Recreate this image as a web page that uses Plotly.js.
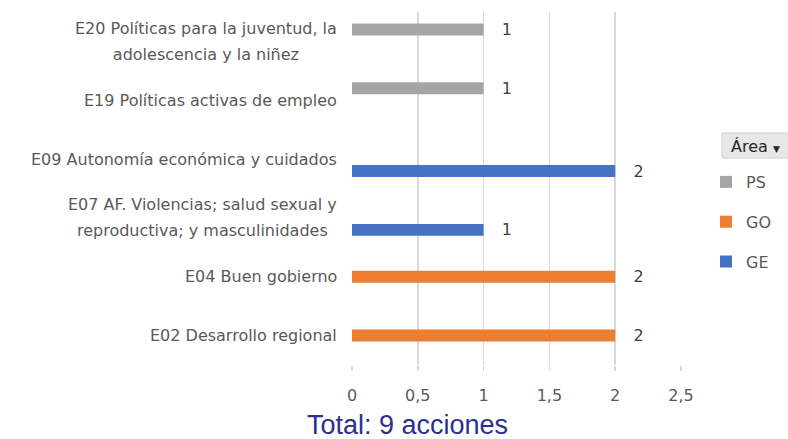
<!DOCTYPE html>
<html>
<head>
<meta charset="utf-8">
<script src="https://cdn.plot.ly/plotly-3.0.1.min.js"></script>
<style>html,body{margin:0;padding:0;background:#fff;}#chart{width:788px;height:439px;}</style>
</head>
<body>
<div id="chart"></div>
<script>
// Data
var categories = ["E02", "E04", "E07", "E09", "E19", "E20"];
var categoryLabels = [
  "E02 Desarrollo regional",
  "E04 Buen gobierno",
  "E07 AF. Violencias; salud sexual y<br>reproductiva; y masculinidades",
  "E09 Autonomía económica y cuidados",
  "E19 Políticas activas de empleo",
  "E20 Políticas para la juventud, la<br>adolescencia y la niñez"
];
var valuesGE = [null, null, 1, 2, null, null];
var valuesGO = [2, 2, null, null, null, null];
var valuesPS = [null, null, null, null, 1, 1];
var xTickValues = [0, 0.5, 1, 1.5, 2, 2.5];
var chartTitle = "Total: 9 acciones";
var legendTitle = "Área";

var FONT = "DejaVu Sans, Open Sans, sans-serif";
var LABEL_COLOR = "#595959";

function labelText(arr) {
  return arr.map(function (v) { return v === null ? "" : "\u00a0\u00a0\u00a0" + v; });
}
function barTrace(name, vals, color, rank) {
  return {
    type: "bar", orientation: "h", name: name,
    y: categories, x: vals,
    marker: { color: color },
    text: labelText(vals), textposition: "outside",
    textfont: { family: FONT, size: 16, color: "#404040" },
    cliponaxis: false, constraintext: "none",
    legendgroup: name, legendrank: rank,
    hoverinfo: "skip"
  };
}
var traces = [
  barTrace("GE", valuesGE, "#4472C4", 3),
  barTrace("GO", valuesGO, "#ED7D31", 2),
  barTrace("PS", valuesPS, "#A5A5A5", 1)
];

var L = 352, R = 107, T = 12, B = 74, W = 788, H = 439;
var pw = W - L - R, ph = H - T - B;
function px2x(p) { return (p - L) / pw; }
function py2y(p) { return (H - B - p) / ph; }

// wrap each line in a 16px span while the annotation font is 20px -> wider line spacing
function spaced(label) {
  return label.split("<br>").map(function (s) {
    return '<span style="font-size:16px">' + s + '</span>';
  }).join("<br>");
}

var annotations = categories.map(function (c, i) {
  var multi = categoryLabels[i].indexOf("<br>") >= 0;
  return {
    xref: "paper", yref: "y", x: 0, y: c, xanchor: "right", yanchor: "middle",
    xshift: -13, text: multi ? spaced(categoryLabels[i]) : categoryLabels[i],
    showarrow: false, align: "center",
    font: { family: FONT, size: multi ? 20 : 16, color: LABEL_COLOR }
  };
});
annotations.push({
  xref: "paper", yref: "paper", x: px2x(755), y: py2y(146), xanchor: "center", yanchor: "middle",
  text: legendTitle + ' <span style="font-size:9px">▼</span>', showarrow: false,
  font: { family: FONT, size: 16, color: "#262626" }
});
annotations.push({
  xref: "paper", yref: "paper", x: px2x(407), y: py2y(425), xanchor: "center", yanchor: "middle",
  text: chartTitle, showarrow: false,
  font: { family: "Liberation Sans, Arial, sans-serif", size: 27, color: "#2A3190" }
});

var layout = {
  width: W, height: H,
  margin: { l: L, r: R, t: T, b: B, pad: 0 },
  paper_bgcolor: "#ffffff", plot_bgcolor: "#ffffff",
  barmode: "group", bargap: 0.39, bargroupgap: 0,
  separators: ",.",
  font: { family: FONT, size: 16, color: LABEL_COLOR },
  xaxis: {
    range: [0, 2.5], tickvals: xTickValues,
    showgrid: true, gridcolor: "#D9D9D9", gridwidth: 1.5,
    zeroline: false, showline: false,
    ticks: "outside", ticklen: 5, tickcolor: "#D9D9D9", tickwidth: 1.5,
    ticklabelstandoff: 11,
    tickfont: { family: FONT, size: 16, color: LABEL_COLOR }
  },
  yaxis: {
    type: "category", categoryorder: "array", categoryarray: categories,
    showticklabels: false, showgrid: false, zeroline: false, showline: false
  },
  showlegend: true,
  legend: {
    xref: "container", yref: "container",
    x: 706 / W, y: 1 - 165 / H, xanchor: "left", yanchor: "top",
    traceorder: "grouped", tracegroupgap: 16,
    font: { family: FONT, size: 16, color: LABEL_COLOR },
    bgcolor: "rgba(0,0,0,0)"
  },
  shapes: [{
    type: "rect", xref: "paper", yref: "paper",
    x0: px2x(722), x1: px2x(790), y0: py2y(158), y1: py2y(133),
    fillcolor: "#E7E7E7", line: { color: "#CFCFCF", width: 1 }, layer: "below"
  }],
  annotations: annotations
};

Plotly.newPlot("chart", traces, layout, { displayModeBar: false, staticPlot: true });
</script>
</body>
</html>
